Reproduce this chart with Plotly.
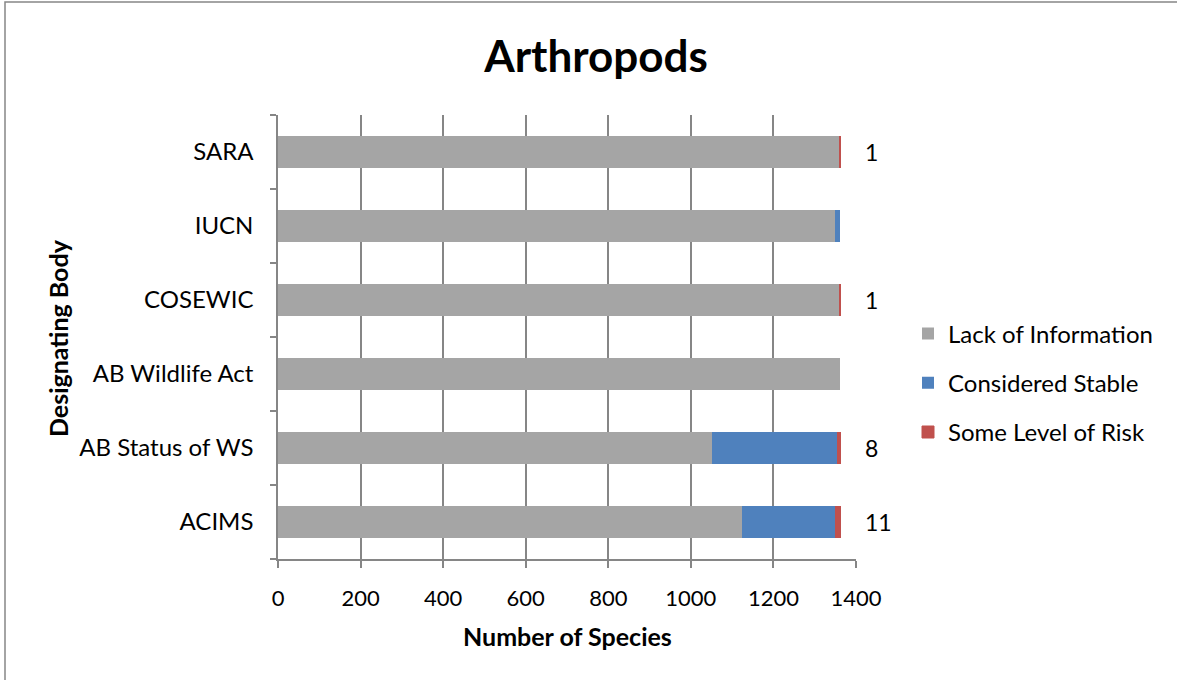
import plotly.graph_objects as go

# ---- data ----
bodies = ["ACIMS", "AB Status of WS", "AB Wildlife Act", "COSEWIC", "IUCN", "SARA"]
lack_of_information = [1123, 1050, 1362, 1361, 1348, 1361]
considered_stable = [228, 304, 0, 0, 14, 0]
some_level_of_risk = [11, 8, 0, 1, 0, 1]
series_names = ["Lack of Information", "Considered Stable", "Some Level of Risk"]
x_ticks = [0, 200, 400, 600, 800, 1000, 1200, 1400]

# ---- layout geometry (pixels) ----
W, H = 1177, 680
PL, PR, PT, PB = 278, 856, 115, 559
FONT = "Lato"
GRID = "#868686"
colors = ["#A5A5A5", "#4F81BD", "#C0504D"]


def px(x):
    return (x - PL) / (PR - PL)


def py(y):
    return (PB - y) / (PB - PT)


fig = go.Figure()
for name, vals, col in zip(series_names,
                           [lack_of_information, considered_stable, some_level_of_risk],
                           colors):
    lw = [1 if (col == colors[2] and v > 0) else 0 for v in vals]
    fig.add_trace(go.Bar(
        y=bodies, x=vals, name=name, orientation="h",
        marker=dict(color=col, line=dict(color=col, width=lw)),
        legendgroup=name,
    ))

annotations = []
for b, r in zip(bodies, some_level_of_risk):
    if r > 0:
        annotations.append(dict(x=x_ticks[-1], y=b, xref="x", yref="y", text=str(r),
                                showarrow=False, xanchor="left", xshift=7,
                                font=dict(family=FONT, size=23, color="#000")))

annotations.append(dict(x=px(567), y=py(636), xref="paper", yref="paper",
                        text="<b>Number of Species</b>", showarrow=False,
                        xanchor="center", yanchor="middle",
                        font=dict(family=FONT, size=25, color="#000")))
annotations.append(dict(x=px(58), y=py(338), xref="paper", yref="paper",
                        text="<b>Designating Body</b>", showarrow=False, textangle=-90,
                        xanchor="center", yanchor="middle",
                        font=dict(family=FONT, size=25, color="#000")))

fig.update_layout(
    width=W, height=H,
    margin=dict(l=PL, r=W - PR, t=PT, b=H - PB, pad=0),
    barmode="stack", bargap=0.58,
    paper_bgcolor="white", plot_bgcolor="white",
    font=dict(family=FONT, size=23, color="#000"),
    title=dict(text="<b>Arthropods</b>", xref="container", yref="container",
               x=596 / W, y=1 - 57 / H, xanchor="center", yanchor="middle",
               font=dict(family=FONT, size=44, color="#000")),
    xaxis=dict(range=[0, 1400], tickvals=x_ticks, showgrid=True, gridcolor=GRID, gridwidth=1.5,
               showline=True, linecolor=GRID, linewidth=1.5, ticks="outside", ticklen=7,
               tickcolor=GRID, tickwidth=1.5, ticklabelstandoff=12, zeroline=False,
               tickfont=dict(family=FONT, size=22), fixedrange=True),
    yaxis=dict(showgrid=False, showline=True, linecolor=GRID, linewidth=1.5,
               ticks="outside", tickson="boundaries", ticklen=6, tickcolor=GRID,
               tickwidth=1.5, ticklabelstandoff=18, tickfont=dict(family=FONT, size=24),
               fixedrange=True),
    legend=dict(x=px(908), y=py(383), xanchor="left", yanchor="middle",
                traceorder="grouped", tracegroupgap=15,
                font=dict(family=FONT, size=24, color="#000"), bgcolor="rgba(0,0,0,0)"),
    annotations=annotations,
    shapes=[dict(type="rect", xref="paper", yref="paper",
                 x0=px(5), x1=px(1185), y0=py(2), y1=py(690),
                 line=dict(color=GRID, width=1.5), fillcolor="rgba(0,0,0,0)", layer="below")],
    showlegend=True,
)

fig.write_html("out.html")
